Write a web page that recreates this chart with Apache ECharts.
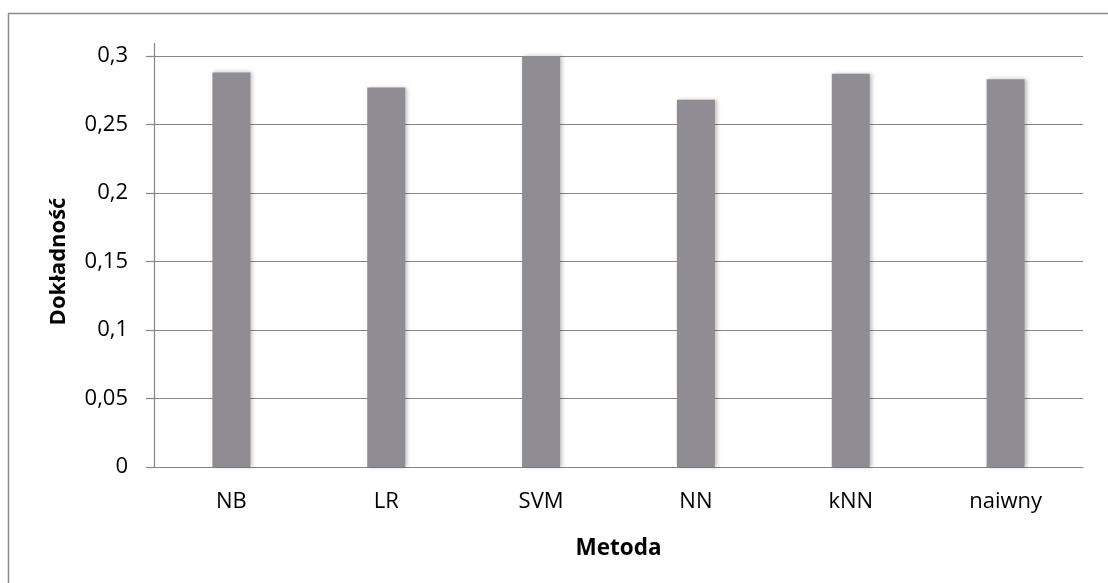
<!DOCTYPE html>
<html>
<head>
<meta charset="utf-8">
<script src="https://cdn.jsdelivr.net/npm/echarts@6/dist/echarts.min.js"></script>
<style>
  html, body { margin: 0; padding: 0; background: #fff; }
  #chart { width: 1108px; height: 583px; }
</style>
</head>
<body>
<div id="chart"></div>
<script>
// Accuracy per classification method
const methods = ['NB', 'LR', 'SVM', 'NN', 'kNN', 'naiwny'];
const accuracy = [0.288, 0.277, 0.300, 0.268, 0.287, 0.283];
const yTicks = { min: 0, max: 0.3, step: 0.05 };
const xTitle = 'Metoda';
const yTitle = 'Dokładność';

const FONT = '"Open Sans", "DejaVu Sans", sans-serif';
const LINE = '#868686';

const chart = echarts.init(document.getElementById('chart'), null, { renderer: 'canvas' });

chart.setOption({
  animation: false,
  backgroundColor: '#ffffff',
  grid: { left: 154, right: 25, top: 56, bottom: 116, containLabel: false },
  graphic: [
    {
      type: 'rect',
      shape: { x: 8.5, y: 13.5, width: 1300, height: 800 },
      style: { fill: 'none', stroke: '#8c8c8c', lineWidth: 1.5 },
      silent: true
    },
    {
      type: 'line',
      shape: { x1: 154.5, y1: 43, x2: 154.5, y2: 56 },
      style: { stroke: LINE, lineWidth: 1.2 },
      silent: true
    }
  ],
  xAxis: {
    type: 'category',
    data: methods,
    name: xTitle,
    nameLocation: 'middle',
    nameGap: 70,
    nameTextStyle: { fontFamily: FONT, fontSize: 22.5, fontWeight: 'bold', color: '#000' },
    axisLine: { show: true, lineStyle: { color: LINE, width: 1.2 } },
    axisTick: { show: false },
    axisLabel: { fontFamily: FONT, fontSize: 22, color: '#000', margin: 24 },
    splitLine: { show: false }
  },
  yAxis: {
    type: 'value',
    min: yTicks.min,
    max: yTicks.max,
    interval: yTicks.step,
    name: yTitle,
    nameLocation: 'middle',
    nameGap: 84,
    nameRotate: 90,
    nameTextStyle: { fontFamily: FONT, fontSize: 22, fontWeight: 'bold', color: '#000' },
    axisLine: { show: true, lineStyle: { color: LINE, width: 1.2 } },
    axisTick: { show: true, inside: false, length: 8, lineStyle: { color: LINE, width: 1.2 } },
    axisLabel: {
      fontFamily: FONT, fontSize: 22, color: '#000', margin: 26,
      formatter: v => String(+v.toFixed(2)).replace('.', ',')
    },
    splitLine: { show: true, lineStyle: { color: LINE, width: 1.2 } }
  },
  series: [{
    type: 'bar',
    data: accuracy,
    barWidth: 38,
    itemStyle: {
      color: '#8f8c93',
      shadowColor: 'rgba(0,0,0,0.25)',
      shadowBlur: 4,
      shadowOffsetX: 2,
      shadowOffsetY: 0
    }
  }]
});
</script>
</body>
</html>
